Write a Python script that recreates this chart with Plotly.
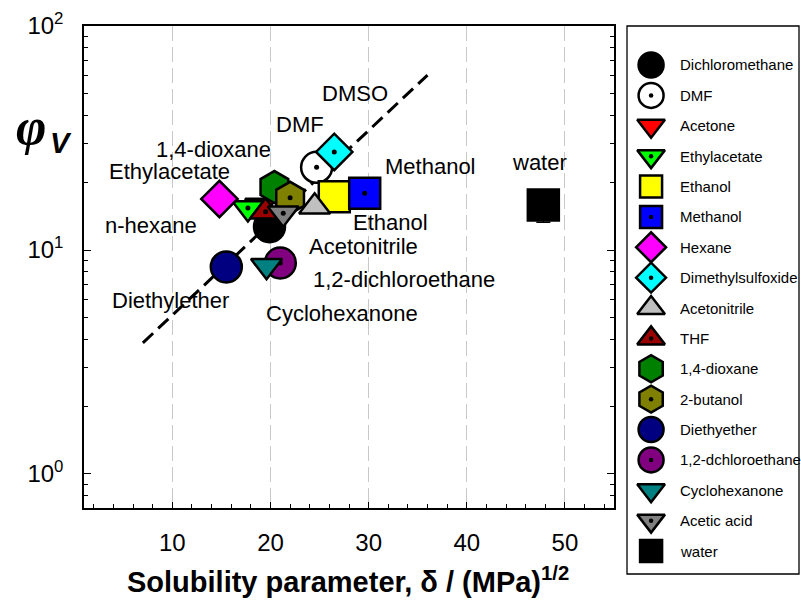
import numpy as np
import plotly.graph_objects as go

# Solvents, in legend / drawing order
solvents = ["Dichloromethane", "DMF", "Acetone", "Ethylacetate", "Ethanol", "Methanol",
            "Hexane", "Dimethylsulfoxide", "Acetonitrile", "THF", "1,4-dioxane", "2-butanol",
            "Diethyether", "1,2-dchloroethane", "Cyclohexanone", "Acetic acid", "water"]
# Solubility parameter delta / (MPa)^1/2
delta = [19.9, 24.7, 19.0, 17.7, 26.5, 29.6, 14.8, 26.5, 24.5, 19.5, 20.4, 22.0,
         15.5, 21.0, 19.6, 21.3, 47.8]
# Swelling ratio phi_V
phi_v = [12.7, 23.4, 15.8, 15.4, 17.3, 17.9, 16.9, 27.4, 15.6, 14.8, 19.1, 17.1,
         8.4, 8.75, 8.5, 14.6, 15.9]
water_err = 2.6

symbols = ["circle", "circle", "triangle-down", "triangle-down", "square", "square",
           "diamond", "diamond", "triangle-up", "triangle-up", "hexagon", "hexagon",
           "circle", "circle", "triangle-down", "triangle-down", "square"]
# solvents whose marker carries a centre dot
dotted = [False, True, False, True, False, True, False, True, False, True, False, True,
          False, True, False, True, False]
colors = ["#000000", "#ffffff", "#ff0000", "#00ff00", "#ffff00", "#0000ff",
          "#ff00ff", "#00ffff", "#c0c0c0", "#9a0000", "#008000", "#808000",
          "#000080", "#800080", "#008080", "#808080", "#000000"]

# Trend line (two end points)
fit_x = [7.0, 36.0]
fit_y = [3.85, 60.4]

# Point labels
label_text = ["DMSO", "DMF", "1,4-dioxane", "Ethylacetate", "n-hexane", "Methanol", "water",
              "Ethanol", "Acetonitrile", "1,2-dichloroethane", "Diethylether", "Cyclohexanone"]
label_x = [28.58, 22.98, 14.23, 9.75, 7.81, 36.32, 47.42, 32.25, 29.50, 33.57, 9.85, 27.26]
label_y = [50.0, 36.5, 28.2, 22.5, 12.9, 23.7, 24.7, 13.3, 10.4, 7.35, 5.98, 5.23]

x_ticks = [10, 20, 30, 40, 50]
y_ticks = [1, 10, 100]
y_ticktext = ["10<sup>0</sup>", "10<sup>1</sup>", "10<sup>2</sup>"]

main_size = {"circle": 31, "square": 31, "diamond": 28, "triangle-down": 27,
             "triangle-up": 27, "hexagon": 32}
legend_size = {"circle": 25, "square": 22, "diamond": 23, "triangle-down": 24,
               "triangle-up": 24, "hexagon": 27}

SANS = "Liberation Sans, Arial, sans-serif"
W, H = 801, 602
px_l, px_r, px_t, px_b = 84, 614, 26, 508
lg_l, lg_r, lg_t, lg_b = 627, 799, 26, 574

fig = go.Figure()

# dashed trend line
fig.add_trace(go.Scatter(x=fit_x, y=fit_y, mode="lines",
                         line=dict(color="black", width=3, dash="14px,7px"),
                         hoverinfo="skip"))

for i, name in enumerate(solvents):
    err = None
    if name == "water":
        err = dict(type="data", array=[water_err], color="black", thickness=1.5, width=7)
    fig.add_trace(go.Scatter(
        x=[delta[i]], y=[phi_v[i]], mode="markers", name=name, error_y=err,
        marker=dict(symbol=symbols[i], size=main_size[symbols[i]], opacity=1,
                    color=colors[i], line=dict(color="black", width=2.5)),
    ))
    if dotted[i]:
        fig.add_trace(go.Scatter(
            x=[delta[i]], y=[phi_v[i]], mode="markers", hoverinfo="skip",
            marker=dict(symbol="circle", size=5, color="black", line=dict(width=0))))

# legend entries drawn in their own axes
idx = list(range(len(solvents)))
fig.add_trace(go.Scatter(
    x=[0.14] * len(solvents), y=idx, mode="markers", xaxis="x2", yaxis="y2",
    marker=dict(symbol=symbols, size=[legend_size[s] for s in symbols], opacity=1,
                color=colors, line=dict(color="black", width=2.5)),
    hoverinfo="skip"))
dot_idx = [i for i in idx if dotted[i]]
fig.add_trace(go.Scatter(
    x=[0.14] * len(dot_idx), y=dot_idx, mode="markers", xaxis="x2", yaxis="y2",
    marker=dict(symbol="circle", size=4.5, color="black", opacity=1, line=dict(width=0)),
    hoverinfo="skip"))

annotations = []
for t, x, y in zip(label_text, label_x, label_y):
    annotations.append(dict(x=x, y=np.log10(y), xref="x", yref="y", text=t, showarrow=False,
                            xanchor="center", yanchor="middle",
                            font=dict(family=SANS, size=22, color="black")))
for i, name in enumerate(solvents):
    annotations.append(dict(x=0.2965, y=i, xref="x2", yref="y2", text=name, showarrow=False,
                            xanchor="left", yanchor="middle",
                            font=dict(family=SANS, size=15, color="black")))
# axis titles
annotations.append(dict(x=348 / W, y=1 - 580 / H, xref="paper", yref="paper",
                        text="<b>Solubility parameter, δ / (MPa)<sup>1/2</sup></b>",
                        showarrow=False, xanchor="center", yanchor="middle",
                        font=dict(family=SANS, size=29, color="black")))
annotations.append(dict(x=31 / W, y=1 - 126 / H, xref="paper", yref="paper",
                        text="<b><i>φ</i></b>", showarrow=False, xanchor="center",
                        yanchor="middle",
                        font=dict(family="Liberation Serif, Times New Roman, serif", size=52,
                                  color="black")))
annotations.append(dict(x=61 / W, y=1 - 143 / H, xref="paper", yref="paper",
                        text="<b><i>V</i></b>", showarrow=False, xanchor="center",
                        yanchor="middle",
                        font=dict(family=SANS, size=29, color="black")))

fig.update_layout(
    width=W, height=H, margin=dict(l=0, r=0, t=0, b=0),
    paper_bgcolor="white", plot_bgcolor="white", showlegend=False,
    xaxis=dict(domain=[px_l / W, px_r / W], range=[1, 55], tickvals=x_ticks,
               ticks="inside", ticklen=6, tickwidth=1.2, tickcolor="black",
               showline=True, linecolor="black", linewidth=1.5, mirror=True,
               showgrid=True, gridcolor="#c8c8c8", gridwidth=1, griddash="15px,6px",
               zeroline=False, automargin=False, ticklabelstandoff=12,
               tickfont=dict(family=SANS, size=24, color="black"),
               minor=dict(dtick=2, tick0=0, ticks="inside", ticklen=4, tickwidth=1.2,
                          tickcolor="black", showgrid=False)),
    yaxis=dict(domain=[1 - px_b / H, 1 - px_t / H], type="log",
               range=[np.log10(0.705), 2], tickvals=y_ticks, ticktext=y_ticktext,
               ticks="inside", ticklen=7, tickwidth=1.2, tickcolor="black",
               showline=True, linecolor="black", linewidth=1.5, mirror="ticks",
               showgrid=False, zeroline=False, automargin=False, ticklabelstandoff=14,
               tickfont=dict(family=SANS, size=24, color="black"),
               minor=dict(dtick="D1", ticks="inside", ticklen=4, tickwidth=1.2,
                          tickcolor="black", showgrid=False)),
    xaxis2=dict(domain=[lg_l / W, lg_r / W], range=[0, 1], visible=False, anchor="y2"),
    yaxis2=dict(domain=[1 - lg_b / H, 1 - lg_t / H],
                range=[(lg_b - 65) / 30.375, -(65 - lg_t) / 30.375],
                visible=False, anchor="x2"),
    annotations=annotations,
    shapes=[dict(type="rect", xref="paper", yref="paper", x0=lg_l / W, x1=lg_r / W,
                 y0=1 - lg_b / H, y1=1 - lg_t / H, line=dict(color="black", width=1.3))],
)

fig.write_html("out.html")
